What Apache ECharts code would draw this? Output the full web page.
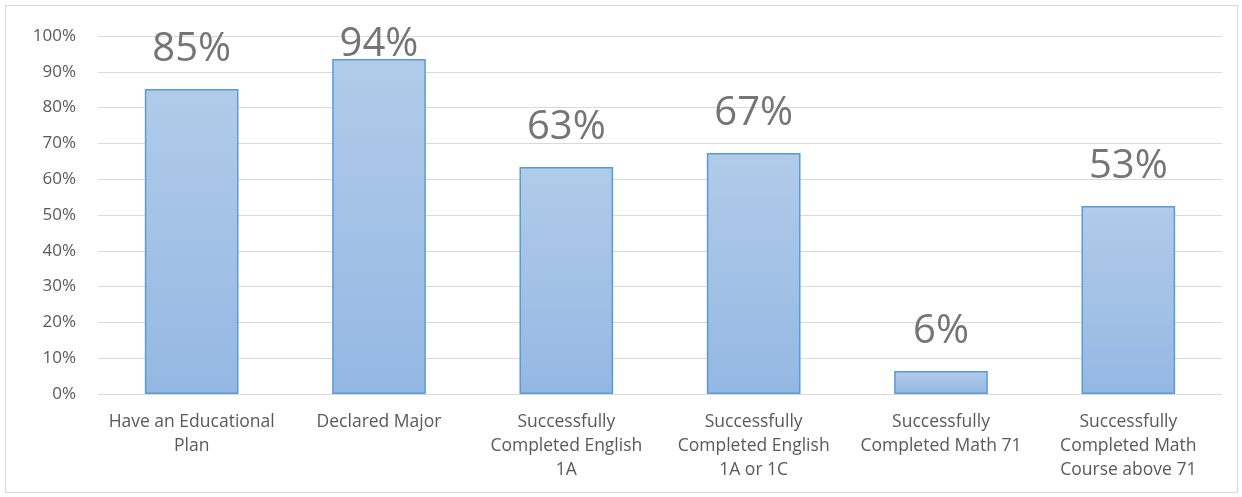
<!DOCTYPE html>
<html><head><meta charset="utf-8">
<script src="https://cdn.jsdelivr.net/npm/echarts@6/dist/echarts.min.js"></script>
<style>html,body{margin:0;padding:0;background:#fff}#c{width:1242px;height:497px}
#frame{position:absolute;left:5px;top:5px;width:1231px;height:486px;border:1px solid #d9d9d9;pointer-events:none}</style>
</head><body><div id="c"></div><div id="frame"></div>
<script>
const categories = ["Have an Educational\nPlan", "Declared Major", "Successfully\nCompleted English\n1A", "Successfully\nCompleted English\n1A or 1C", "Successfully\nCompleted Math 71", "Successfully\nCompleted Math\nCourse above 71"];
const values = [85.2, 93.6, 63.4, 67.3, 6.4, 52.5];
const yTicks = [0,10,20,30,40,50,60,70,80,90,100];
const chart = echarts.init(document.getElementById('c'));
const font = "'Open Sans', 'Liberation Sans', sans-serif";
// the tallest label is pushed down to stay inside the chart area, as in the original
const seriesData = values.map(v => v > 90 ? {value: v, label: {offset: [0, 25]}} : v);
chart.setOption({
  animation:false,
  grid:{left:98,right:20,top:36,bottom:103},
  xAxis:{type:'category',data:categories,
    axisLine:{lineStyle:{color:'#d9d9d9',width:1}},axisTick:{show:false},
    axisLabel:{color:'#595959',fontSize:17.5,fontFamily:font,lineHeight:24,margin:16,interval:0}},
  yAxis:{type:'value',min:0,max:100,interval:10,
    axisLabel:{formatter:v=>v+'%',color:'#595959',fontSize:17,fontFamily:font,margin:22},
    axisLine:{show:false},axisTick:{show:false},
    splitLine:{lineStyle:{color:'#d9d9d9',width:1}}},
  series:[{type:'bar',data:seriesData,barWidth:'50%',
    itemStyle:{color:new echarts.graphic.LinearGradient(0,0,0,1,[{offset:0,color:'#b1cbe9'},{offset:1,color:'#94b8e3'}]),
      borderColor:'#5b9bd5',borderWidth:1.5},
    label:{show:true,position:'top',distance:19,formatter:p=>Math.round(p.value)+'%',
      color:'#757575',fontSize:40,fontFamily:font}}]
});
</script></body></html>
